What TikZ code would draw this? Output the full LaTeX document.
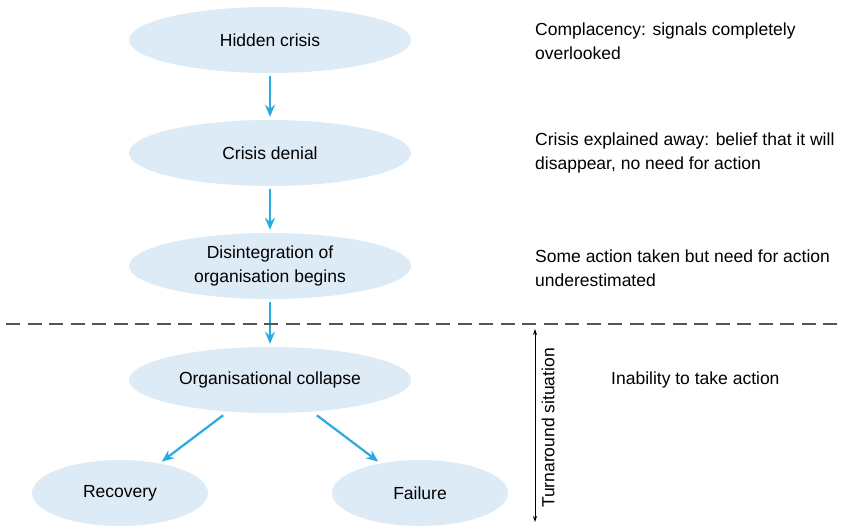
\documentclass[tikz,border=0pt]{standalone}
\usepackage{fontspec}
\setmainfont{Liberation Sans}
\usetikzlibrary{shapes.geometric,arrows.meta}
\definecolor{ellfill}{HTML}{DDEBF7}
\definecolor{arrblue}{HTML}{29ABE2}
\definecolor{dashgray}{HTML}{555555}
\tikzset{
  stage/.style={ellipse, fill=ellfill, draw=none, minimum width=282pt, minimum height=66pt, inner sep=0pt, align=center, font=\fontsize{17.5}{24}\selectfont},
  outcome/.style={ellipse, fill=ellfill, draw=none, minimum width=176pt, minimum height=66pt, inner sep=0pt, align=center, font=\fontsize{17.5}{24}\selectfont},
  note/.style={anchor=west, align=left, inner sep=0pt, font=\fontsize{17.5}{24}\selectfont},
  flow/.style={draw=arrblue, line width=2.2pt, -{Stealth[length=12pt,width=10pt,inset=4pt]}},
  divider/.style={draw=dashgray, line width=1.2pt, dash pattern=on 14pt off 7.5pt},
  span/.style={draw=black, line width=0.8pt, {Stealth[length=6pt,width=4pt]}-{Stealth[length=6pt,width=4pt]}}
}
\begin{document}
\begin{tikzpicture}[x=1pt,y=-1pt]
\useasboundingbox (0,0) rectangle (842,529);
\node[stage] (hidden) at (270,40) {Hidden crisis};
\node[stage] (denial) at (270,153) {Crisis denial};
\node[stage] (disint) at (270,266) {Disintegration of\\organisation begins};
\node[stage] (collapse) at (270,380) {Organisational collapse};
\node[outcome] (recovery) at (120,493) {Recovery};
\node[outcome] (failure) at (420,493) {Failure};

\draw[flow, shorten <=3pt, shorten >=3pt] (hidden) -- (denial);
\draw[flow, shorten <=3pt, shorten >=3pt] (denial) -- (disint);
\draw[flow, shorten <=3pt, shorten >=3pt] (disint) -- (collapse);
\draw[flow, shorten <=6pt, shorten >=3pt] (collapse) -- (recovery);
\draw[flow, shorten <=6pt, shorten >=3pt] (collapse) -- (failure);

\coordinate (dl) at (6,324);
\coordinate (dr) at (838,324);
\draw[divider] (dl) -- (dr);

\coordinate (st) at (535,329);
\coordinate (sb) at (535,522);
\draw[span] (st) -- (sb);
\node[rotate=90, inner sep=0pt, font=\fontsize{17.5}{24}\selectfont] (turn) at (548,428) {Turnaround situation};

\node[note] (n1) at (535,41) {Complacency: signals completely\\overlooked};
\node[note] (n2) at (535,153) {Crisis explained away: belief that it will\\disappear, no need for action};
\node[note] (n3) at (535,268) {Some action taken but need for action\\underestimated};
\node[note] (n4) at (611,380) {Inability to take action};
\end{tikzpicture}
\end{document}
